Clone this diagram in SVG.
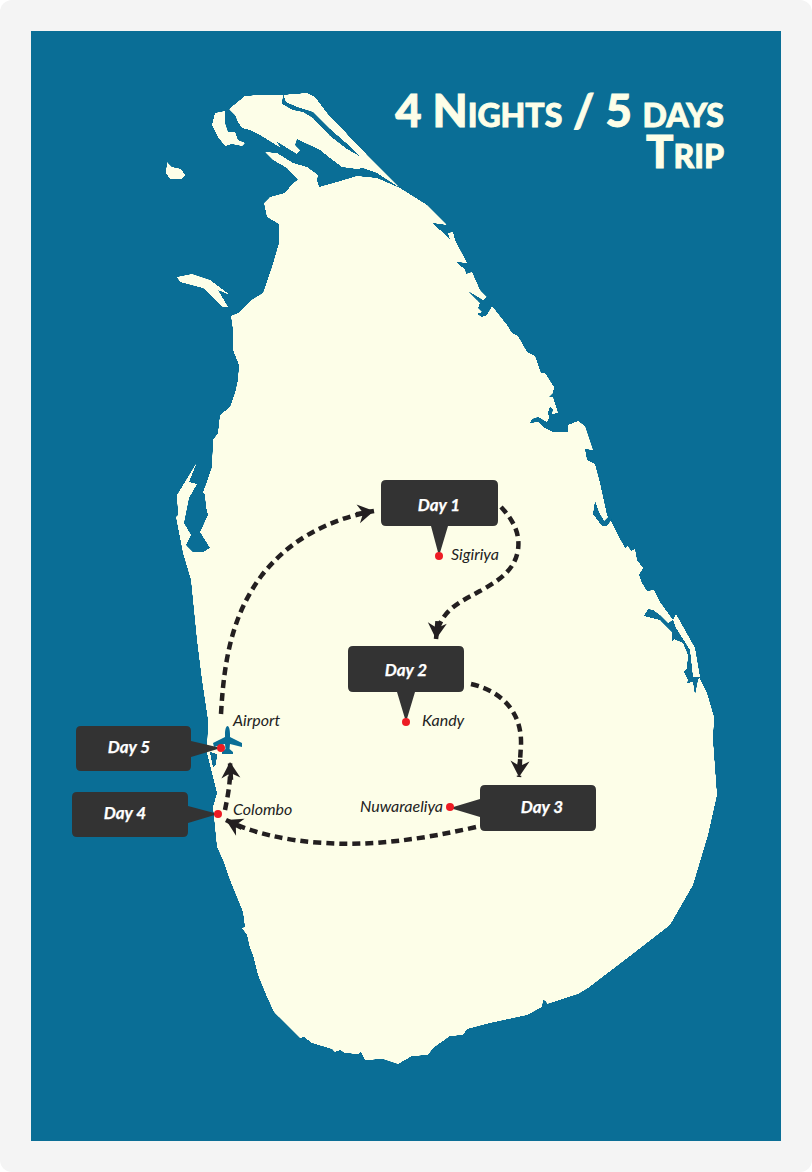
<svg xmlns="http://www.w3.org/2000/svg" width="812" height="1172" viewBox="0 0 812 1172">
<style>
.land{fill:#fdfee8}
.water{fill:#0a6e96}
.box{fill:#333333}
.dot{fill:#ed1c24}
.day{font:italic 700 17px Lato,"Liberation Sans",sans-serif;fill:#ffffff;text-anchor:middle;stroke:#ffffff;stroke-width:.25}
.place{font:italic 400 16px Lato,"Liberation Sans",sans-serif;fill:#222222}
.title{font:900 45.5px Lato,"Liberation Sans",sans-serif;font-variant:small-caps;fill:#fdfee8;stroke:#fdfee8;stroke-width:.9;text-anchor:end}
.route{fill:none;stroke:#231f20;stroke-width:4.5;stroke-dasharray:8 5}
</style>
<defs>
<marker id="arrow" markerUnits="userSpaceOnUse" markerWidth="24" markerHeight="24" refX="18" refY="12" orient="auto">
<path d="M2,2.500 L18,12 L2,21.500 L7,12 Z M0,9.750 H9 V14.250 H0 Z" fill="#231f20"/>
</marker>
<filter id="smooth" filterUnits="userSpaceOnUse" x="0" y="0" width="812" height="1172">
<feGaussianBlur stdDeviation="0.7"/>
<feComponentTransfer><feFuncA type="linear" slope="6" intercept="-2.5"/></feComponentTransfer>
</filter>
</defs>
<rect x="0" y="0" width="812" height="1172" fill="#ffffff"/>
<rect x="0" y="0" width="812" height="1172" rx="12" fill="#f4f4f4"/>
<rect x="31" y="31" width="750" height="1110" class="water"/>
<g id="map">
<g filter="url(#smooth)">
<path class="land" d="M400,188 L427,205 L447,225 L433,223 L436,227 L444,233 L450,240 L448,233 L453,232 L455,240 L467,263 L457,262 L459,265 L465,269 L466,274 L472,272 L480,290 L487,297 L483,300 L468,291 L480,303 L478,308 L482,312 L477,314 L482,317 L487,315 L492,306 L507,325 L512,333 L518,336 L527,352 L535,356 L541,373 L545,373 L554,387 L553,393 L549,397 L553,397 L558,413 L552,414 L553,409 L550,407 L548,412 L549,418 L547,422 L538,417 L532,419 L530,423 L538,422 L545,428 L553,432 L568,432 L568,425 L578,421 L585,426 L593,450 L585,449 L587,460 L595,464 L600,483 L607,515 L610,519 L618,535 L625,548 L628,546 L631,551 L635,549 L637,560 L643,568 L639,575 L642,583 L647,591 L654,590 L660,602 L673,620 L676,614 L695,648 L700,677 L700,679 L707,693 L714,717 L713,740 L717,795 L708,835 L693,885 L670,925 L630,956 L588,988 L578,994 L547,1004 L546,1001 L543,1000 L542,1007 L527,1015 L490,1023 L467,1029 L463,1035 L450,1036 L433,1048 L428,1055 L412,1056 L398,1064 L383,1059 L365,1060 L361,1052 L358,1054 L345,1053 L340,1050 L335,1052 L332,1049 L312,1043 L304,1037 L300,1038 L274,1012 L267,997 L258,975 L253,955 L250,948 L247,935 L242,928 L245,927 L243,912 L230,880 L223,860 L217,847 L213,807 L217,793 L207,753 L208,720 L202,680 L197,640 L191,580 L183,553 L176,517 L178,515 L177,495 L188,477 L197,462 L189,482 L197,484 L189,498 L184,523 L191,535 L186,545 L193,552 L203,552 L210,548 L200,532 L208,515 L206,507 L205,495 L203,492 L205,487 L212,467 L213,440 L218,433 L220,415 L230,407 L235,393 L238,380 L239,365 L233,350 L233,330 L231,316 L238,313 L253,299 L263,293 L272,267 L279,243 L279,224 L267,217 L264,203 L270,197 L285,193 L293,183 L298,180 L319,187 L337,182 L357,176 L377,178 Z"/>
<path class="land" d="M229,109 L245,96 L260,95 L282,95 L307,93 L315,97 L327,113 L367,155 L400,188 L377,173 L363,168 L357,169 L342,167 L330,158 L320,150 L297,139 L295,145 L300,150 L297,154 L287,148 L276,141 L281,148 L260,135 L250,130 L242,128 L238,122 L235,115 Z"/>
<path class="land" d="M265,152 L277,153 L293,163 L307,167 L318,175 L317,180 L319,187 L300,184 L298,180 L287,168 L273,160 Z"/>
<path class="land" d="M167,162 L172,167 L181,169 L185,175 L182,179 L170,179 L166,173 Z"/>
<path class="land" d="M215,113 L225,111 L225,123 L228,132 L235,132 L238,140 L245,143 L242,146 L232,144 L225,146 L218,137 L212,125 Z"/>
<path class="land" d="M177,277 L192,274 L210,280 L230,295 L218,290 L228,307 L223,307 L203,288 L180,282 Z"/>
</g>
<g filter="url(#smooth)">
<path class="water" d="M283,94 L286,102 L297,107 L307,110 L313,112 L330,129 L345,142 L361,157 L347,149 L330,136 L313,118 L303,112 L293,110 L282,104 Z"/>
<path class="water" d="M673,620 L676,628 L690,650 L693,677 L700,677 L698,680 L695,695 L693,682 L687,683 L688,680 L684,672 L687,668 L688,655 L683,643 L674,639 L672,642 L672,632 L660,620 L652,618 L644,616 L648,609 L653,610 L660,615 L668,623 Z"/>
<path class="water" d="M210,752 L217,754 L216,765 L213,767 L211,758 Z"/>
<path class="water" d="M595,501 L599,512 L604,521 L609,516 L612,519 L607,526 L602,526 L593,514 Z"/>
</g>
<path class="water" d="M227.500,726 C229,726 230,730 230,734 L230,737 L242,743 L242,747 L230,744 L229.500,749 L233,752 L233,754 L222,754 L222,752 L225.500,749 L225,744 L214,747 L213,743 L225,737 L225,734 C225,730 226,726 227.500,726 Z"/>
</g>
<g id="title">
<text class="title" x="724" y="127">4 Nights / 5 days</text>
<text class="title" x="724" y="168">Trip</text>
</g>
<g id="connectors">
<path class="route" marker-end="url(#arrow)" d="M221,714 C224,660 232,615 262,575 C288,542 325,520 374,511"/>
<path class="route" marker-end="url(#arrow)" d="M501,507 C515,522 520,535 518,550 C514,575 490,585 473,595 C455,604 438,615 436,639"/>
<path class="route" marker-end="url(#arrow)" d="M471,684 C505,692 522,715 521,745 L519,777"/>
<path class="route" marker-end="url(#arrow)" d="M476,827 C420,840 370,846 325,843 C285,841 250,832 226,820"/>
<path class="route" marker-end="url(#arrow)" d="M225,810 C228,795 231,780 230,762"/>
</g>
<g id="day1">
<path class="box" d="M386,480 H493 Q498,480 498,485 V521 Q498,526 493,526 H448 L439,556 L431,526 H386 Q381,526 381,521 V485 Q381,480 386,480 Z"/>
<circle class="dot" cx="439" cy="556" r="4"/>
<text class="day" x="439" y="511">Day 1</text>
<text class="place" x="451" y="560">Sigiriya</text>
</g>
<g id="day2">
<path class="box" d="M353,646 H459 Q464,646 464,651 V687 Q464,692 459,692 H415 L406,722 L397,692 H353 Q348,692 348,687 V651 Q348,646 353,646 Z"/>
<circle class="dot" cx="406" cy="722" r="4"/>
<text class="day" x="406" y="676">Day 2</text>
<text class="place" x="422" y="726">Kandy</text>
</g>
<g id="day3">
<path class="box" d="M485,785 H591 Q596,785 596,790 V826 Q596,831 591,831 H485 Q480,831 480,826 V817 L450,808 L480,799 V790 Q480,785 485,785 Z"/>
<circle class="dot" cx="450" cy="807" r="4"/>
<text class="day" x="542" y="813">Day 3</text>
<text class="place" x="360" y="812">Nuwaraeliya</text>
</g>
<g id="day4">
<path class="box" d="M77,792 H183 Q188,792 188,797 V806 L218,814 L188,823 V832 Q188,837 183,837 H77 Q72,837 72,832 V797 Q72,792 77,792 Z"/>
<circle class="dot" cx="218" cy="814" r="4"/>
<text class="day" x="125" y="819">Day 4</text>
<text class="place" x="233" y="815">Colombo</text>
</g>
<g id="day5">
<path class="box" d="M81,726 H186 Q191,726 191,731 V741 L221,748 L191,757 V766 Q191,771 186,771 H81 Q76,771 76,766 V731 Q76,726 81,726 Z"/>
<circle class="dot" cx="221" cy="748" r="4"/>
<text class="day" x="129" y="753">Day 5</text>
<text class="place" x="233" y="726">Airport</text>
</g>
</svg>
